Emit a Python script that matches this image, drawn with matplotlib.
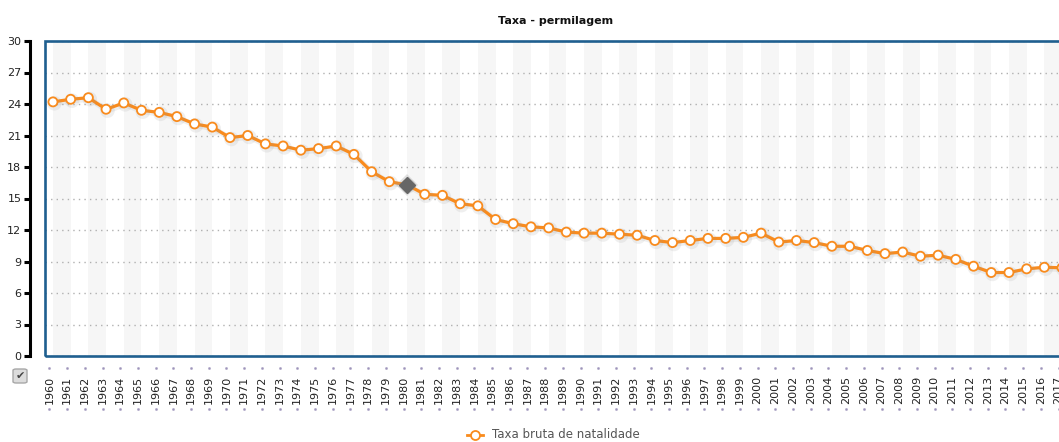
import matplotlib.pyplot as plt
import matplotlib.patheffects as pe
import matplotlib.transforms as mtransforms
from matplotlib.patches import Rectangle, FancyBboxPatch
import numpy as np

# Dados: taxa bruta de natalidade (permilagem)
anos = list(range(1960, 2018))
taxa = [24.2, 24.45, 24.6, 23.5, 24.1, 23.4, 23.2, 22.8, 22.1, 21.8,
        20.8, 21.0, 20.2, 20.0, 19.6, 19.75, 20.0, 19.2, 17.55, 16.6,
        16.3, 15.4, 15.3, 14.5, 14.3, 13.0, 12.6, 12.3, 12.2, 11.8,
        11.7, 11.7, 11.6, 11.5, 11.0, 10.8, 11.0, 11.2, 11.2, 11.3,
        11.7, 10.85, 11.0, 10.8, 10.45, 10.45, 10.05, 9.75, 9.9, 9.5,
        9.6, 9.2, 8.55, 7.95, 7.95, 8.3, 8.45, 8.4]
ano_destaque = 1980
titulo = 'Taxa - permilagem'
serie = 'Taxa bruta de natalidade'

W, H = 1059, 442
fig = plt.figure(figsize=(W / 100, H / 100), dpi=100)

# eixo: esquerda 45px, topo 40px, base 356px; corta à direita
left_px, top_px, bot_px, right_px = 45, 41, 356, 1070
ax = fig.add_axes([left_px / W, (H - bot_px) / H,
                   (right_px - left_px) / W, (bot_px - top_px) / H])

laranja = '#f98b1d'
ax.set_xlim(anos[0] - 0.45, anos[-1] + 0.45)
ax.set_ylim(0, 30)

# faixas alternadas
for a in anos:
    if a % 2 == 0:
        ax.axvspan(a, a + 1, color='#f6f6f6', lw=0, zorder=0)

ax.set_yticks(range(0, 31, 3))
ax.yaxis.grid(True, linestyle=(0, (1, 3)), color='#b0b0b0', linewidth=1)
ax.set_axisbelow(True)

ax.plot(anos, taxa, color=laranja, linewidth=2.3, marker='o', markersize=6.5,
        markerfacecolor='white', markeredgecolor=laranja, markeredgewidth=1.3,
        zorder=3,
        path_effects=[pe.SimpleLineShadow(offset=(1, -1), shadow_color='#999',
                                          alpha=0.15, linewidth=4), pe.Normal()])
i = anos.index(ano_destaque)
ax.plot([anos[i]], [taxa[i]], marker='D', markersize=8, color='#666666',
        zorder=4,
        path_effects=[pe.SimpleLineShadow(offset=(0, 0), shadow_color='#999',
                                          alpha=0.3, linewidth=3), pe.Normal()])

# moldura azul
for s in ['top', 'right', 'bottom']:
    ax.spines[s].set_visible(False)
ax.add_patch(Rectangle((0, 0), 1, 1, transform=ax.transAxes, fill=False,
                       edgecolor='#1f5f8f', linewidth=1.9, zorder=5, clip_on=False))

# eixo y preto deslocado
ax.spines['left'].set_position(('outward', 11))
ax.spines['left'].set_linewidth(2.2)
ax.spines['left'].set_color('black')
ax.tick_params(axis='y', length=4, width=2.2, color='black', pad=2,
               labelsize=8, labelcolor='#222')

# eixo x: anos rodados
off = mtransforms.ScaledTranslation(-3.5 / 100, 0, fig.dpi_scale_trans)
ax.set_xticks(anos)
ax.set_xticklabels([str(a) for a in anos], rotation=90)
ax.tick_params(axis='x', length=0, pad=14, labelsize=8, labelcolor='#222')
for lbl in ax.get_xticklabels():
    lbl.set_transform(lbl.get_transform() + off)

tr = mtransforms.blended_transform_factory(ax.transData, ax.transAxes) + off
for yy in [-0.038, -0.168]:
    ax.plot(anos, [yy] * len(anos), linestyle='none', marker='s', markersize=0.9,
            color='#9a90b8', alpha=0.8, transform=tr, clip_on=False)

fig.text(556 / W, 1 - 21 / H, titulo, ha='center', va='center',
         fontsize=8, fontweight='bold', color='#111')

# legenda
fig.lines.append(plt.Line2D([467 / W, 483 / W], [1 - 435 / H] * 2,
                            transform=fig.transFigure, color=laranja, lw=2))
fig.lines.append(plt.Line2D([475 / W], [1 - 435 / H], transform=fig.transFigure,
                            marker='o', markersize=6.5, markerfacecolor='white',
                            markeredgecolor=laranja, markeredgewidth=1.3, lw=0))
fig.text(492 / W, 1 - 435 / H, serie, ha='left', va='center', fontsize=8.5,
         color='#555')

# caixa de verificação
fig.patches.append(FancyBboxPatch((13 / W, 1 - 383 / H), 14 / W, 14 / H,
                                  boxstyle='round,pad=0,rounding_size=0.003',
                                  transform=fig.transFigure, facecolor='#dcdcdc',
                                  edgecolor='#a8a8a8', linewidth=1))
fig.text(20 / W, 1 - 376 / H, '✔', ha='center', va='center', fontsize=8,
         color='#444')

fig.savefig('out.png', dpi=100)
